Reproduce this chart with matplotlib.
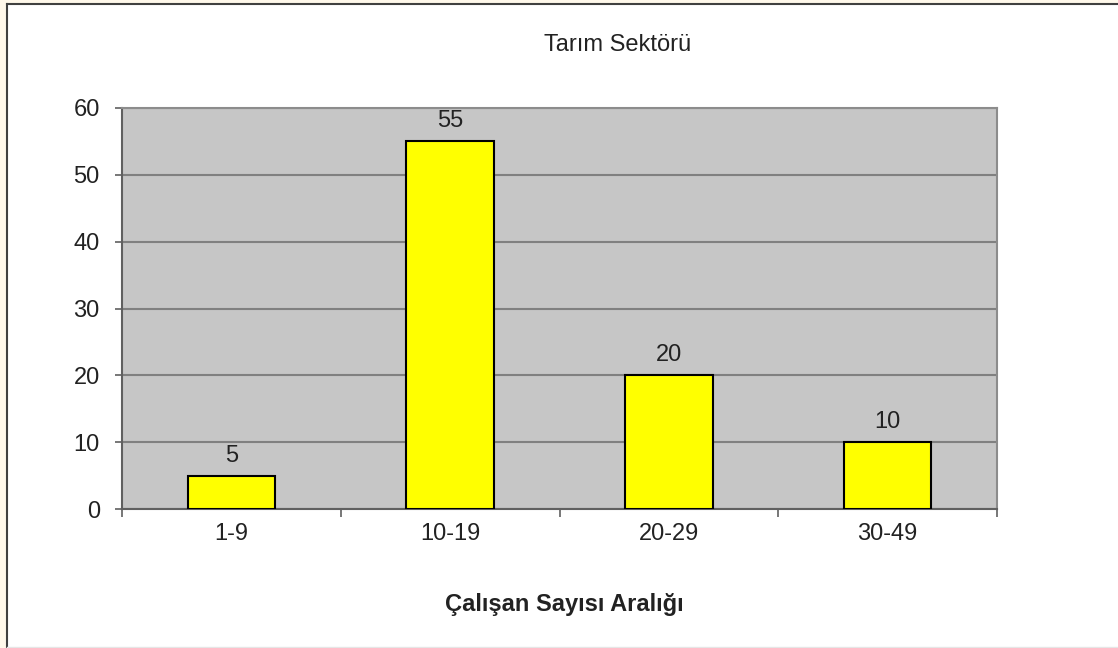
import matplotlib.pyplot as plt
from matplotlib.patches import Rectangle
from matplotlib.lines import Line2D
import numpy as np

# veriler
kategoriler = ["1-9", "10-19", "20-29", "30-49"]
degerler = [5, 55, 20, 10]
y_ticks = [0, 10, 20, 30, 40, 50, 60]

plt.rcParams['font.family'] = ['Liberation Sans', 'DejaVu Sans']

W, H = 1118, 648
fig = plt.figure(figsize=(W / 100, H / 100), dpi=100)
fig.patch.set_facecolor('white')

# kenar (ekran goruntusu cercevesi)
fig.patches.append(Rectangle((0, 0), 6 / W, 1, transform=fig.transFigure,
                             facecolor='#FFF8EA', edgecolor='none', zorder=0))
fig.patches.append(Rectangle((0, 1 - 3 / H), 1, 3 / H, transform=fig.transFigure,
                             facecolor='#FFF8EA', edgecolor='none', zorder=0))
fig.lines.append(Line2D([6.5 / W, 6.5 / W], [0, 1 - 3.5 / H], transform=fig.transFigure,
                        color='#404040', lw=1.5))
fig.lines.append(Line2D([6.5 / W, 1], [1 - 3.5 / H, 1 - 3.5 / H], transform=fig.transFigure,
                        color='#404040', lw=1.5))
fig.lines.append(Line2D([7 / W, 1], [0.8 / H, 0.8 / H], transform=fig.transFigure,
                        color='#E6E6E6', lw=1))

ax = fig.add_axes([122 / W, 1 - 509 / H, 875 / W, 401 / H])
ax.set_facecolor('#C6C6C6')

x = np.arange(len(kategoriler))
bars = ax.bar(x, degerler, width=0.4, color='#FFFF00', edgecolor='black', linewidth=1.5, zorder=3)

for xi, v in zip(x, degerler):
    ax.annotate(str(v), (xi, v), xytext=(0, 6.5), textcoords='offset points',
                ha='center', va='bottom', fontsize=17, color='#222222')

ax.set_xlim(-0.5, len(kategoriler) - 0.5)
ax.set_ylim(0, 60)
ax.set_yticks(y_ticks)
ax.yaxis.grid(True, color='#808080', lw=1.5, zorder=1)
ax.set_axisbelow(True)

ax.set_xticks(x)
ax.set_xticklabels(kategoriler, fontsize=17, color='#222222')
ax.set_xticks(np.arange(-0.5, len(kategoriler)), minor=True)
ax.tick_params(axis='x', which='major', length=0, pad=10)
ax.tick_params(axis='x', which='minor', length=6, width=1.2, color='#606060', direction='out')
ax.tick_params(axis='y', length=5, width=1.2, color='#606060', labelsize=17, labelcolor='#222222', pad=11)

for s in ['left', 'bottom']:
    ax.spines[s].set_color('#606060')
    ax.spines[s].set_linewidth(1.5)
for s in ['top', 'right']:
    ax.spines[s].set_color('#8C8C8C')
    ax.spines[s].set_linewidth(1.5)

fig.text(618 / W, 1 - 45 / H, "Tarım Sektörü", ha='center', va='center', fontsize=17, color='#222222')
fig.text(564 / W, 1 - 604 / H, "Çalışan Sayısı Aralığı", ha='center', va='center',
         fontsize=17, fontweight='bold', color='#222222')

fig.savefig('out.png', dpi=100)
